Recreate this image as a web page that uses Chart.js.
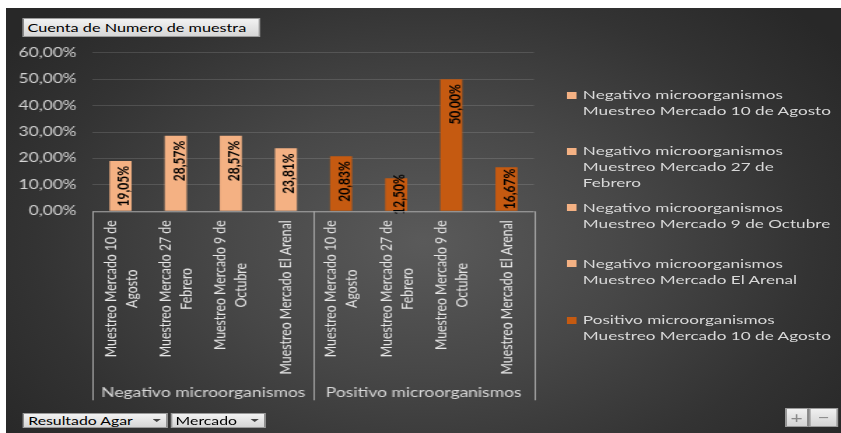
<!DOCTYPE html>
<html>
<head>
<meta charset="utf-8">
<script src="https://cdn.jsdelivr.net/npm/chart.js@4.4.1/dist/chart.umd.min.js"></script>
<style>
  html, body { margin: 0; padding: 0; background: #fff; }
  body { width: 841px; height: 433px; position: relative; overflow: hidden; font-family: Lato, "Open Sans", sans-serif; }
  #panel {
    position: absolute; left: 6px; top: 8px; width: 835px; height: 425px;
    background: radial-gradient(ellipse 62% 78% at 50% 55%, #5a5a5a 0%, #474747 40%, #333 75%, #282828 100%);
  }
  #wrap {
    position: absolute; left: 0; top: 0; width: 601px; height: 433px;
    transform: scaleX(1.39933); transform-origin: 0 0;
  }
  #chart { position: absolute; left: 0; top: 0; }
  .btn {
    position: absolute; height: 15px; line-height: 14px; font-size: 11.3px; color: #000;
    background: linear-gradient(#f2f2f2, #d6d6d6); border: 1px solid #9a9a9a; box-sizing: border-box;
    padding-left: 3px; white-space: nowrap;
  }
  .arrow {
    position: absolute; top: 5.5px; width: 0; height: 0;
    border-left: 3px solid transparent; border-right: 3px solid transparent; border-top: 3px solid #444;
  }
  .leg { position: absolute; left: 404.5px; font-size: 12.25px; line-height: 16px; color: #d9d9d9; white-space: nowrap; }
  .leg .key { position: absolute; left: 0; top: 4.5px; width: 7px; height: 7px; }
  .leg .txt { position: absolute; left: 12px; top: 0; }
  .zoom { position: absolute; top: 408px; height: 19px; line-height: 17px; text-align: center; font-size: 15px;
    color: #8a8a8a; background: linear-gradient(#f0f0f0, #d4d4d4); border: 1px solid #9a9a9a; box-sizing: border-box; }
</style>
</head>
<body>
<div id="panel"></div>
<div id="wrap">
  <canvas id="chart" width="601" height="433"></canvas>
  <div id="legend"></div>
  <div class="btn" style="left:15.7px;top:18px;width:170px;height:19px;line-height:18px;font-size:11.6px;">Cuenta de Numero de muestra</div>
  <div class="btn" style="left:16.2px;top:412.5px;width:104px;">Resultado Agar<span class="arrow" style="left:92px"></span></div>
  <div class="btn" style="left:121.5px;top:412.5px;width:68px;">Mercado<span class="arrow" style="left:56px"></span></div>
  <div class="zoom" style="left:561px;width:16.5px;">+</div>
  <div class="zoom" style="left:578px;width:21px;">&minus;</div>
</div>
<script>
const groups = ['Negativo microorganismos', 'Positivo microorganismos'];
const markets = [
  ['Muestreo Mercado 10 de', 'Agosto'],
  ['Muestreo Mercado 27 de', 'Febrero'],
  ['Muestreo Mercado 9 de', 'Octubre'],
  ['Muestreo Mercado El Arenal']
];
// how the legend wraps the same market names
const legendMarkets = [
  ['Muestreo Mercado 10 de Agosto'],
  ['Muestreo Mercado 27 de', 'Febrero'],
  ['Muestreo Mercado 9 de Octubre'],
  ['Muestreo Mercado El Arenal']
];
const negativo = [0.1905, 0.2857, 0.2857, 0.2381];
const positivo = [0.2083, 0.1250, 0.5000, 0.1667];
const groupColors = ['#F4B183', '#C55A11'];
const legendShown = 5;

const labels = [], values = [], colors = [], groupOf = [];
[negativo, positivo].forEach((arr, g) => {
  arr.forEach((v, i) => {
    labels.push(markets[i]);
    values.push(v);
    colors.push(groupColors[g]);
    groupOf.push(g);
  });
});

function pct(v) {
  return (v * 100).toFixed(2).replace('.', ',') + '%';
}

// legend (html, only the entries Excel had room for)
(function () {
  const box = document.getElementById('legend');
  let n = 0;
  groups.forEach((g, gi) => {
    legendMarkets.forEach((lines) => {
      if (n >= legendShown) return;
      const item = document.createElement('div');
      item.className = 'leg';
      item.style.top = (87 + n * 56.3) + 'px';
      item.innerHTML = '<span class="key" style="background:' + groupColors[gi] + '"></span>' +
        '<span class="txt">' + [g].concat(lines).join('<br>') + '</span>';
      box.appendChild(item);
      n++;
    });
  });
})();

const axisLabels = {
  id: 'axisLabels',
  afterDatasetsDraw(chart) {
    const ctx = chart.ctx;
    const meta = chart.getDatasetMeta(0);
    ctx.save();
    ctx.font = 'bold 12px Lato';
    ctx.fillStyle = '#000';
    ctx.textAlign = 'center';
    ctx.textBaseline = 'alphabetic';
    meta.data.forEach((bar, i) => {
      const txt = pct(values[i]);
      const w = ctx.measureText(txt).width;
      const h = bar.base - bar.y;
      let yc = bar.y + 5 + w / 2;
      if (w + 8 > h) yc = (bar.y + bar.base) / 2;
      ctx.save();
      ctx.translate(bar.x + 6, yc);
      ctx.rotate(-Math.PI / 2);
      ctx.fillText(txt, 0, 0);
      ctx.restore();
    });
    ctx.restore();
  },
  afterDraw(chart) {
    const ctx = chart.ctx;
    const x = chart.scales.x;
    const area = chart.chartArea;
    const bottom = area.bottom;
    const boxH = 189;
    ctx.save();
    // category labels, rotated
    ctx.font = '12.3px Lato';
    ctx.fillStyle = '#e6e6e6';
    ctx.textAlign = 'center';
    ctx.textBaseline = 'middle';
    const lineH = 15;
    labels.forEach((lines, i) => {
      const px = x.getPixelForValue(i);
      const maxW = Math.max(...lines.map(l => ctx.measureText(l).width));
      const yc = bottom + 9 + maxW / 2;
      ctx.save();
      ctx.translate(px, yc);
      ctx.rotate(-Math.PI / 2);
      lines.forEach((l, k) => {
        ctx.fillText(l, 0, (k - (lines.length - 1) / 2) * lineH);
      });
      ctx.restore();
    });
    // group boundaries
    const half = (x.getPixelForValue(1) - x.getPixelForValue(0)) / 2;
    const edges = [area.left];
    groups.forEach((g, gi) => {
      const last = groupOf.lastIndexOf(gi);
      edges.push(x.getPixelForValue(last) + half);
    });
    ctx.strokeStyle = '#a6a6a6';
    ctx.lineWidth = 1;
    ctx.beginPath();
    ctx.moveTo(area.left, bottom + 0.5);
    ctx.lineTo(area.right, bottom + 0.5);
    edges.forEach(e => {
      const ex = Math.round(e) + 0.5;
      ctx.moveTo(ex, bottom);
      ctx.lineTo(ex, bottom + boxH);
    });
    ctx.stroke();
    // group names
    ctx.font = '12.5px Lato';
    ctx.fillStyle = '#d9d9d9';
    groups.forEach((g, gi) => {
      ctx.fillText(g, (edges[gi] + edges[gi + 1]) / 2, bottom + 182);
    });
    ctx.restore();
  }
};

new Chart(document.getElementById('chart').getContext('2d'), {
  type: 'bar',
  data: {
    labels: labels,
    datasets: [
      {
        data: values,
        backgroundColor: colors,
        borderWidth: 0,
        categoryPercentage: 1,
        barPercentage: 0.4,
      },
    ],
  },
  options: {
    responsive: false,
    animation: false,
    devicePixelRatio: 1,
    layout: { padding: { top: 52.7, bottom: 221.7, right: 219.4, left: 0 } },
    plugins: { legend: { display: false }, tooltip: { enabled: false } },
    scales: {
      x: { display: false },
      y: {
        min: 0,
        max: 0.6,
        afterFit(s) { s.width = 66.46; },
        border: { display: false },
        grid: { color: 'rgba(255,255,255,0.13)', drawTicks: false },
        ticks: {
          stepSize: 0.1,
          padding: 11.7,
          color: '#d4d4d4',
          font: { family: 'Lato', size: 12.4 },
          callback: (v) => pct(v),
        },
      },
    },
  },
  plugins: [axisLabels],
});
</script>
</body>
</html>
